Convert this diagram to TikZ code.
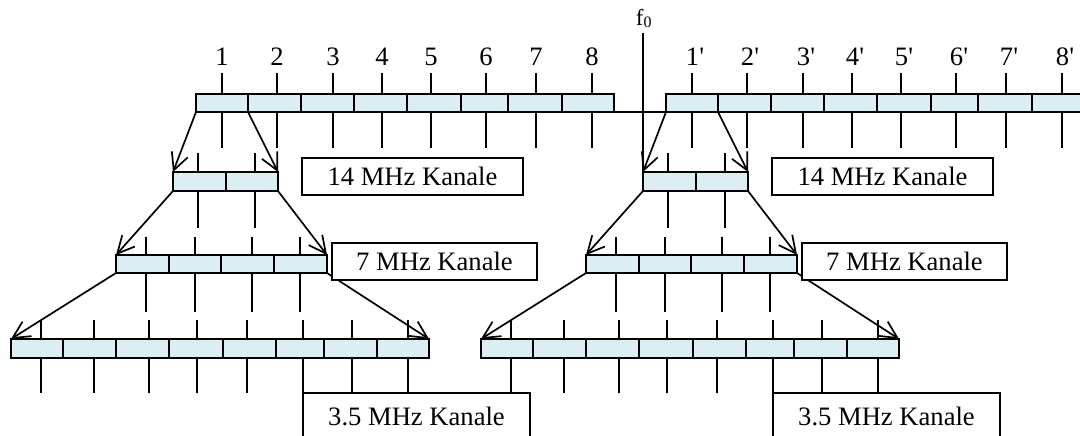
\documentclass[tikz,border=0pt]{standalone}
\usepackage{fontspec}
\setmainfont{Liberation Serif}
\usetikzlibrary{arrows.meta}
\definecolor{cellblue}{HTML}{DAEEF3}
\newcommand\drawhalf[2]{%
  \begin{scope}[xshift=#2]
  % ticks (boxes are drawn over them)
  \foreach \t in {222,277,333,382,431,486,536,592} \draw (\t,73) -- (\t,148);
  \foreach \t in {198,255} \draw (\t,153) -- (\t,228);
  \foreach \t in {146,195,252,300} \draw (\t,237) -- (\t,312);
  \foreach \t in {41,94,149,197,247,303,352,408} \draw (\t,320) -- (\t,393);
  % channel cells
  \foreach \a/\b [count=\i] in {196/248,248/301,301/354,354/407,407/461,461/508,508/562,562/614}
    \node[cell, minimum width={(\b-\a)*1pt}, minimum height=18pt] (#1r1c\i) at ({(\a+\b)/2},103) {};
  \foreach \a/\b [count=\i] in {173/226,226/278}
    \node[cell, minimum width={(\b-\a)*1pt}, minimum height=19pt] (#1r2c\i) at ({(\a+\b)/2},181.5) {};
  \foreach \a/\b [count=\i] in {116/169,169/221,221/274,274/327}
    \node[cell, minimum width={(\b-\a)*1pt}, minimum height=18pt] (#1r3c\i) at ({(\a+\b)/2},264) {};
  \foreach \a/\b [count=\i] in {11/63,63/116,116/169,169/223,223/276,276/324,324/377,377/429}
    \node[cell, minimum width={(\b-\a)*1pt}, minimum height=19pt] (#1r4c\i) at ({(\a+\b)/2},348.5) {};
  % splitting arrows
  \draw[split] (#1r1c1.south west) -- (#1r2c1.north west);
  \draw[split] (#1r1c1.south east) -- (#1r2c2.north east);
  \draw[split] (#1r2c1.south west) -- (#1r3c1.north west);
  \draw[split] (#1r2c2.south east) -- (#1r3c4.north east);
  \draw[split] (#1r3c1.south west) -- (#1r4c1.north west);
  \draw[split] (#1r3c4.south east) -- (#1r4c8.north east);
  % labels
  \node[lbl, minimum width=221pt, minimum height=37pt] (#1k14) at (412.5,176.5) {14 MHz Kanale};
  \node[lbl, minimum width=205pt, minimum height=37pt] (#1k7) at (434.5,261.5) {7 MHz Kanale};
  \node[lbl, minimum width=227pt, minimum height=47pt] (#1k35) at (416.5,416.5) {3.5 MHz Kanale};
  \end{scope}}
\begin{document}
\begin{tikzpicture}[x=1pt,y=-1pt, line width=1.7pt,
  cell/.style={draw, fill=cellblue, inner sep=0pt, outer sep=0pt},
  lbl/.style={draw, fill=white, inner sep=0pt, outer sep=0pt, font=\fontsize{26.6}{30}\selectfont},
  num/.style={font=\fontsize{26.6}{30}\selectfont, anchor=base, inner sep=0pt},
  split/.style={-{Straight Barb[length=17pt,width=17pt]}}]
\useasboundingbox (0,0) rectangle (1080,436);
\drawhalf{L}{0pt}
\drawhalf{R}{470pt}
% channel numbers
\foreach \t/\n in {222/1,277/2,333/3,382/4,431/5,486/6,536/7,592/8}
  \node[num] (nl\n) at (\t,66) {\n};
\foreach \t/\n in {222/1,277/2,333/3,382/4,431/5,486/6,536/7,592/8}
  \node[num] (nr\n) at (\t+470+3,66) {\n\textquotesingle};
% centre frequency
\coordinate (f0top) at (643,33);
\node[anchor=base west, inner sep=0pt, font=\fontsize{23}{25}\selectfont] (f0) at (635,26) {f\raisebox{-1.5pt}{\fontsize{16}{16}\selectfont 0}};
\draw (f0top) -- (Rr2c1.north west);
\draw (Lr1c8.south east) -- (Rr1c1.south west);
\end{tikzpicture}
\end{document}
